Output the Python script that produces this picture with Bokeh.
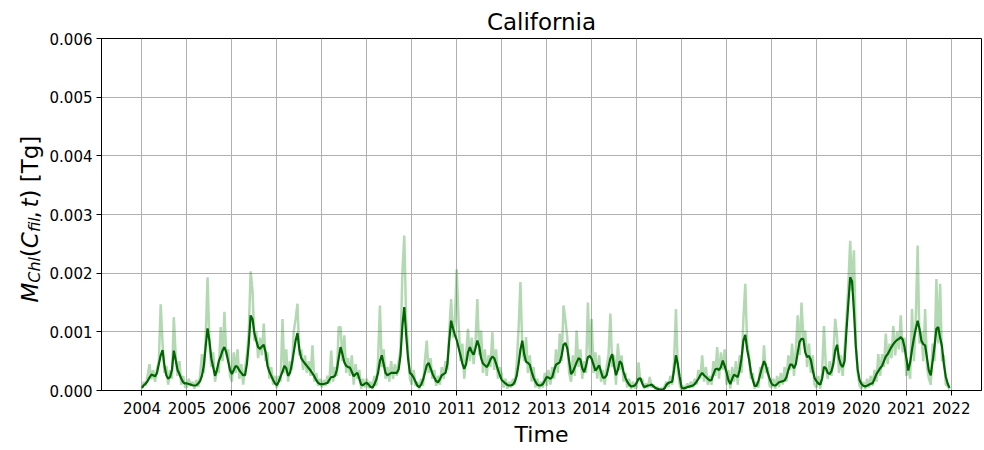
import math
from bokeh.plotting import figure
from bokeh.layouts import row
from bokeh.models import FixedTicker, PrintfTickFormatter, ColumnDataSource
from bokeh.core.properties import value
from bokeh.embed import file_html
from bokeh.resources import INLINE

# ---- data (values in 1e-4 Tg, 24 samples per year: year + k/24) ----
years = list(range(2004, 2022))
x_ticks = list(range(2004, 2023))
y_ticks = [0.0, 0.001, 0.002, 0.003, 0.004, 0.005, 0.006]
SCALE = 1e-4

smooth = {
    2004: [0.45, 0.9, 1.2, 1.6, 2.2, 2.7, 2.6, 2.4, 3.0, 4.5, 6.0, 6.9, 4.2, 2.6, 2.0, 2.3, 3.5, 6.8, 5.2, 3.5, 2.8, 2.0, 1.4, 1.2],
    2005: [1.2, 1.1, 1.0, 0.9, 0.85, 0.9, 1.2, 1.6, 2.5, 4.2, 7.5, 10.6, 8.5, 5.5, 4.0, 2.5, 3.5, 5.0, 5.8, 6.8, 7.4, 6.5, 5.0, 3.5],
    2006: [2.8, 3.5, 4.2, 4.0, 3.4, 3.0, 2.6, 2.6, 4.5, 8.0, 12.8, 12.2, 9.8, 8.5, 7.4, 7.1, 7.5, 7.8, 6.5, 4.2, 3.2, 2.5, 1.8, 1.2],
    2007: [0.9, 1.5, 2.4, 3.2, 4.2, 3.8, 2.5, 3.0, 4.5, 6.5, 8.5, 9.8, 7.0, 5.5, 5.0, 4.6, 4.2, 3.8, 3.4, 2.9, 2.4, 1.8, 1.3, 1.1],
    2008: [1.1, 1.1, 1.2, 1.3, 1.8, 2.3, 2.3, 2.5, 3.5, 5.5, 7.4, 6.2, 4.8, 4.2, 4.0, 3.9, 3.2, 2.4, 2.8, 3.0, 2.0, 1.0, 0.9, 1.2],
    2009: [1.3, 1.0, 0.6, 0.5, 1.0, 1.8, 3.0, 5.0, 6.0, 4.5, 3.0, 2.6, 2.8, 3.0, 3.0, 3.0, 3.0, 3.6, 6.0, 11.0, 14.2, 9.5, 5.5, 3.0],
    2010: [2.7, 2.2, 1.5, 0.8, 0.6, 1.0, 1.8, 3.0, 4.3, 4.7, 3.8, 2.9, 2.2, 1.6, 1.4, 1.9, 2.6, 2.8, 3.0, 4.5, 8.5, 11.9, 10.6, 9.5],
    2011: [8.6, 7.3, 6.0, 4.6, 3.7, 4.5, 6.5, 7.4, 6.6, 6.1, 7.2, 8.5, 7.5, 5.5, 4.6, 4.3, 4.0, 4.5, 5.3, 5.8, 5.5, 4.6, 3.5, 2.6],
    2012: [1.8, 1.5, 1.2, 0.95, 0.85, 0.9, 1.0, 1.5, 2.5, 4.5, 7.0, 8.5, 6.2, 4.9, 4.7, 4.4, 3.2, 2.2, 1.5, 1.0, 0.85, 0.9, 1.1, 1.7],
    2013: [2.3, 2.2, 2.0, 2.3, 3.5, 4.4, 4.6, 4.8, 6.0, 7.8, 8.1, 7.2, 5.0, 2.8, 3.2, 4.0, 4.8, 5.5, 5.3, 3.8, 3.1, 4.2, 5.7, 5.9],
    2014: [5.4, 4.4, 3.4, 3.8, 4.3, 3.2, 2.2, 2.2, 2.6, 4.0, 5.5, 6.2, 4.2, 2.6, 3.5, 5.0, 4.6, 3.2, 2.2, 1.5, 1.0, 0.7, 0.75, 0.85],
    2015: [1.3, 2.0, 2.1, 1.2, 0.6, 0.7, 0.85, 0.9, 1.0, 0.7, 0.45, 0.3, 0.2, 0.15, 0.1, 0.4, 1.0, 1.3, 1.4, 1.5, 3.5, 6.0, 4.5, 2.3],
    2016: [0.5, 0.35, 0.45, 0.57, 0.65, 0.75, 0.85, 1.1, 1.5, 2.0, 2.6, 3.0, 2.6, 2.3, 2.0, 1.7, 1.8, 2.8, 3.6, 3.7, 3.5, 4.0, 5.1, 4.2],
    2017: [3.1, 1.8, 1.1, 2.0, 2.7, 2.5, 2.3, 3.5, 5.5, 8.5, 9.5, 7.0, 5.3, 3.2, 1.8, 0.8, 0.8, 1.6, 2.8, 4.0, 5.0, 4.3, 3.0, 2.0],
    2018: [1.2, 0.9, 0.85, 1.1, 1.4, 1.5, 1.6, 1.7, 2.3, 3.5, 4.4, 4.4, 3.8, 4.5, 6.5, 8.3, 8.8, 8.8, 6.5, 5.7, 5.9, 5.2, 3.5, 2.1],
    2019: [1.6, 1.2, 1.0, 2.0, 4.0, 3.8, 3.0, 2.8, 3.3, 4.5, 6.8, 7.8, 5.5, 4.4, 4.0, 5.0, 10.2, 14.8, 19.3, 18.6, 13.5, 7.5, 3.6, 1.8],
    2020: [1.1, 0.8, 0.7, 0.8, 1.0, 1.15, 1.25, 2.0, 2.8, 3.3, 3.8, 4.2, 5.0, 5.8, 6.2, 6.8, 7.4, 7.9, 8.3, 8.6, 8.8, 9.1, 8.7, 7.4],
    2021: [5.5, 3.4, 4.8, 7.0, 8.9, 10.5, 11.9, 10.5, 8.5, 7.9, 7.7, 5.5, 3.4, 2.6, 5.0, 7.5, 10.5, 10.8, 9.0, 7.5, 4.5, 2.4, 1.2, 0.45],
}

raw = {
    2004: [0.3, 1.5, 0.8, 2.5, 4.5, 1.9, 3.5, 1.5, 3.6, 5.0, 14.7, 8.0, 3.0, 4.2, 1.0, 3.5, 2.0, 12.5, 6.0, 2.5, 5.0, 1.0, 2.5, 0.6],
    2005: [0.5, 2.0, 0.8, 1.5, 0.3, 1.8, 0.6, 2.5, 6.2, 3.0, 9.0, 19.3, 8.0, 4.0, 6.5, 1.5, 3.5, 3.0, 10.8, 5.0, 13.4, 6.0, 7.0, 2.5],
    2006: [1.5, 6.5, 3.0, 7.0, 2.0, 4.5, 1.0, 3.8, 6.0, 10.0, 20.3, 17.0, 8.5, 10.0, 5.5, 9.0, 6.0, 11.4, 5.0, 6.5, 2.0, 4.0, 1.0, 2.5],
    2007: [0.4, 2.5, 1.5, 12.2, 3.0, 7.0, 1.5, 5.0, 3.5, 10.0, 12.2, 14.8, 6.0, 7.0, 3.5, 6.0, 3.0, 5.0, 2.5, 7.7, 1.5, 3.0, 0.8, 2.0],
    2008: [0.5, 1.8, 0.8, 2.5, 1.2, 6.8, 1.5, 4.0, 2.5, 10.8, 10.8, 5.0, 9.4, 3.0, 5.5, 2.5, 6.0, 1.0, 4.5, 2.0, 3.5, 0.3, 2.0, 0.5],
    2009: [2.0, 0.4, 1.5, 0.2, 2.5, 0.8, 5.0, 14.5, 4.0, 7.0, 2.0, 4.0, 1.5, 5.0, 2.0, 4.5, 2.5, 5.0, 7.0, 20.2, 26.4, 12.0, 7.1, 2.0],
    2010: [1.0, 3.5, 0.8, 1.5, 0.2, 2.0, 0.8, 5.0, 8.5, 3.0, 5.5, 2.0, 3.5, 0.8, 2.5, 1.0, 4.0, 2.0, 5.0, 3.5, 10.0, 15.6, 9.0, 12.0],
    2011: [20.6, 11.6, 5.0, 8.0, 2.0, 6.0, 10.5, 5.0, 9.0, 4.5, 8.0, 15.6, 6.0, 10.2, 3.0, 7.0, 2.5, 6.0, 4.0, 9.9, 3.5, 7.0, 2.0, 4.0],
    2012: [2.8, 0.5, 2.0, 0.3, 1.5, 0.5, 2.0, 1.0, 4.5, 10.5, 18.5, 7.0, 5.0, 9.1, 3.0, 6.0, 1.5, 4.0, 0.5, 2.0, 0.3, 1.5, 0.5, 3.0],
    2013: [0.8, 3.5, 1.0, 4.0, 2.0, 7.0, 3.0, 9.7, 5.0, 14.5, 12.0, 9.0, 3.0, 1.5, 6.0, 2.5, 10.2, 4.0, 7.0, 2.0, 5.0, 3.0, 15.0, 6.0],
    2014: [12.2, 3.0, 6.5, 2.0, 6.0, 1.5, 3.5, 1.0, 4.0, 6.0, 13.1, 4.0, 6.0, 1.0, 8.0, 3.5, 6.0, 1.5, 3.0, 0.5, 2.0, 0.2, 1.5, 0.4],
    2015: [0.5, 4.8, 1.5, 2.0, 0.3, 1.2, 0.4, 2.3, 0.5, 1.0, 0.2, 0.6, 0.1, 0.4, 0.0, 0.8, 1.5, 0.6, 2.5, 1.0, 5.0, 13.9, 3.5, 1.0],
    2016: [0.1, 0.8, 0.2, 1.2, 0.4, 1.5, 0.5, 2.0, 1.0, 3.5, 2.0, 6.0, 1.5, 4.0, 1.0, 2.5, 1.0, 5.0, 2.5, 7.4, 2.0, 6.5, 3.5, 7.0],
    2017: [1.0, 3.5, 0.3, 4.0, 1.5, 5.0, 1.0, 6.0, 3.0, 12.2, 18.2, 8.0, 6.0, 2.0, 3.0, 0.3, 1.5, 0.5, 4.0, 2.0, 7.7, 3.0, 4.0, 0.8],
    2018: [0.5, 2.0, 0.3, 2.5, 0.6, 3.0, 1.0, 4.0, 1.5, 6.0, 3.5, 8.0, 2.5, 7.0, 12.8, 6.0, 15.0, 9.0, 10.2, 4.0, 8.0, 3.0, 6.0, 1.0],
    2019: [0.5, 2.5, 0.3, 3.0, 11.0, 4.0, 2.0, 5.0, 2.5, 6.0, 12.2, 9.0, 3.0, 6.0, 2.5, 7.0, 12.0, 18.0, 25.5, 17.0, 23.9, 8.0, 3.0, 0.8],
    2020: [0.3, 1.5, 0.2, 2.0, 0.5, 2.5, 0.8, 3.5, 1.5, 6.2, 2.5, 6.2, 4.0, 9.7, 4.5, 8.0, 5.5, 11.0, 6.0, 10.0, 7.0, 12.8, 6.5, 9.0],
    2021: [2.5, 4.0, 2.0, 13.9, 5.0, 12.0, 24.7, 8.0, 10.0, 5.0, 13.9, 4.0, 2.0, 1.0, 8.0, 5.0, 19.0, 8.0, 18.2, 5.0, 6.0, 1.0, 0.8, 0.2],
}

t, v_raw, v_smooth = [], [], []
for yr in years:
    for k in range(24):
        t.append(yr + k / 24)
        v_raw.append(raw[yr][k] * SCALE)
        v_smooth.append(smooth[yr][k] * SCALE)

src = ColumnDataSource(dict(t=t, raw=v_raw, smooth=v_smooth))

FONT = "DejaVu Sans"
X0, X1 = 2003.1, 2022.67
H = 450
TOP, BOTTOM = 38, 60
FRAME_H = H - TOP - BOTTOM
LABEL_W = 46

p = figure(width=984 - LABEL_W, height=H, x_range=(X0, X1), y_range=(0, 0.006),
           output_backend="svg", toolbar_location=None,
           min_border_left=101 - LABEL_W, min_border_right=3,
           min_border_top=TOP, min_border_bottom=BOTTOM)

p.title.text = "California"
p.title.align = "center"
p.title.text_font = FONT
p.title.text_font_size = "23px"
p.title.text_font_style = "normal"
p.title.text_color = "black"
p.title.standoff = 8

p.line("t", "raw", source=src, line_color="green", line_alpha=0.3, line_width=2.5)
p.line("t", "smooth", source=src, line_color="darkgreen", line_width=2.2)

p.xaxis.ticker = FixedTicker(ticks=x_ticks)
p.xaxis.formatter = PrintfTickFormatter(format="%d")
p.yaxis.ticker = FixedTicker(ticks=y_ticks)
p.yaxis.formatter = PrintfTickFormatter(format="%.3f")
p.xgrid.ticker = FixedTicker(ticks=x_ticks)
p.ygrid.ticker = FixedTicker(ticks=y_ticks)

for ax in (p.xaxis, p.yaxis):
    ax.axis_line_color = "black"
    ax.major_tick_line_color = "black"
    ax.major_tick_out = 5
    ax.major_tick_in = 0
    ax.minor_tick_out = 0
    ax.minor_tick_in = 0
    ax.major_label_text_font = FONT
    ax.major_label_text_font_size = "15px"
    ax.major_label_text_color = "black"
p.xaxis.major_label_standoff = 6
p.yaxis.major_label_standoff = 4

p.xaxis.axis_label = "Time"
p.xaxis.axis_label_text_font = FONT
p.xaxis.axis_label_text_font_size = "22px"
p.xaxis.axis_label_text_font_style = "normal"
p.xaxis.axis_label_text_color = "black"
p.xaxis.axis_label_standoff = 5

p.grid.grid_line_color = "#b0b0b0"
p.grid.grid_line_width = 1
p.outline_line_color = "black"
p.outline_line_width = 1
p.outline_line_alpha = 1

# ---- composed y-axis label: M_Chl(C_fil, t) [Tg], in a narrow side panel ----
# panel frame shares the main frame's vertical extent; 1 unit = 1 px (0 = frame bottom)
lab = figure(width=LABEL_W, height=H, x_range=(0, LABEL_W), y_range=(0, FRAME_H),
             output_backend="svg", toolbar_location=None,
             x_axis_type=None, y_axis_type=None,
             min_border_left=0, min_border_right=0,
             min_border_top=TOP, min_border_bottom=BOTTOM)
lab.outline_line_color = None
lab.grid.visible = False

pieces = [
    # text, size(px), italic, subscript shift(px), advance(px)
    ("M", 23, True, 0, 19.8),
    ("Chl", 16, True, 5, 25.5),
    ("(", 23, False, 0, 9.0),
    ("C", 23, True, 0, 16.1),
    ("fil", 16, True, 5, 13.5),
    (",", 23, False, 0, 11.0),
    ("t", 23, True, 0, 9.0),
    (") [Tg]", 23, False, 0, 63.0),
]
baseline_x = 29
pos = 88.0   # start of the label, px above frame bottom
for txt, size, ital, shift, adv in pieces:
    lab.text(x=[baseline_x + shift], y=[pos], text=[txt], angle=math.pi / 2,
             text_font=value(FONT), text_font_size=value(f"{size}px"),
             text_font_style="italic" if ital else "normal",
             text_align="left", text_baseline="alphabetic", text_color="black")
    pos += adv

layout = row(lab, p, spacing=0)
open("out.html", "w").write(file_html(layout, INLINE))
